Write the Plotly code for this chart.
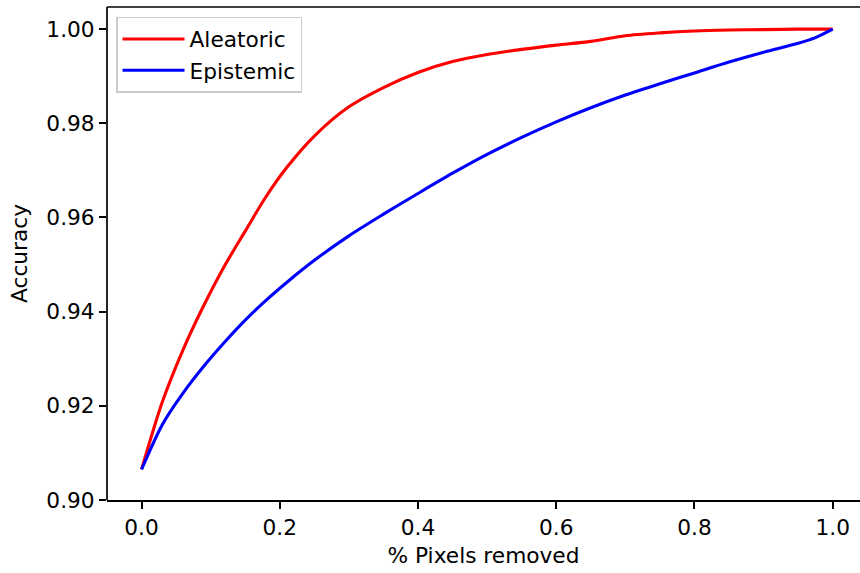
import plotly.graph_objects as go

x_aleatoric = [0.0, 0.03, 0.06, 0.09, 0.12, 0.15, 0.18, 0.21, 0.25, 0.30, 0.35, 0.40,
               0.45, 0.50, 0.55, 0.60, 0.65, 0.70, 0.75, 0.80, 0.85, 0.90, 0.95, 1.0]
y_aleatoric = [0.9065, 0.9208, 0.9319, 0.9413, 0.9497, 0.9571, 0.9644, 0.9706, 0.9773, 0.9835, 0.9876, 0.9908,
               0.9931, 0.9946, 0.9957, 0.9966, 0.9974, 0.9986, 0.9992, 0.9996, 0.9998, 0.9999, 1.0, 1.0]

x_epistemic = [0.0, 0.03, 0.06, 0.09, 0.12, 0.15, 0.18, 0.21, 0.25, 0.30, 0.35, 0.40,
               0.45, 0.50, 0.55, 0.60, 0.65, 0.70, 0.75, 0.80, 0.85, 0.90, 0.95, 0.975, 1.0]
y_epistemic = [0.9065, 0.9160, 0.9227, 0.9284, 0.9335, 0.9382, 0.9424, 0.9462, 0.9509, 0.9561, 0.9607, 0.9651,
               0.9694, 0.9734, 0.9770, 0.9803, 0.9833, 0.9860, 0.9884, 0.9907, 0.9930, 0.9951, 0.9970, 0.9982, 1.0]

x_ticks = [0.0, 0.2, 0.4, 0.6, 0.8, 1.0]
y_ticks = [0.90, 0.92, 0.94, 0.96, 0.98, 1.00]

FONT = "DejaVu Sans"
FS = 21.7

fig = go.Figure()
fig.add_trace(go.Scatter(x=x_aleatoric, y=y_aleatoric, mode="lines", name="Aleatoric",
                         line=dict(color="#ff0000", width=3.1, shape="spline", smoothing=0.8)))
fig.add_trace(go.Scatter(x=x_epistemic, y=y_epistemic, mode="lines", name="Epistemic",
                         line=dict(color="#0000ff", width=3.1, shape="spline", smoothing=0.8)))

# top and left spines
fig.add_shape(type="line", xref="paper", yref="paper", x0=0, x1=1, y0=1, y1=1,
              line=dict(color="black", width=1.7), layer="above")
fig.add_shape(type="line", xref="paper", yref="paper", x0=0, x1=0, y0=0, y1=1,
              line=dict(color="black", width=1.7), layer="above")

fig.update_layout(
    width=860, height=573,
    margin=dict(l=107, r=0, t=7, b=73),
    paper_bgcolor="white", plot_bgcolor="white",
    font=dict(family=FONT, size=FS, color="black"),
    showlegend=True,
    legend=dict(x=0.012, y=0.98, xanchor="left", yanchor="top",
                bgcolor="rgba(255,255,255,0.8)", bordercolor="#cccccc", borderwidth=1.5,
                font=dict(family=FONT, size=FS), tracegroupgap=0, itemwidth=62),
)
fig.update_xaxes(
    range=[-0.05, 1.0395], tickvals=x_ticks, tickformat=".1f",
    showline=True, linecolor="black", linewidth=1.7, mirror=False,
    ticks="outside", ticklen=7, tickwidth=1.7, tickcolor="black",
    showgrid=False, zeroline=False,
    title=dict(text="% Pixels removed", standoff=9, font=dict(family=FONT, size=FS)),
)
fig.update_yaxes(
    range=[0.90, 1.0047], tickvals=y_ticks, tickformat=".2f",
    showline=False, mirror=False,
    ticks="outside", ticklen=7, tickwidth=1.7, tickcolor="black",
    showgrid=False, zeroline=False,
    title=dict(text="Accuracy", standoff=12, font=dict(family=FONT, size=FS)),
)

fig.write_html("out.html", config={"displayModeBar": False},
               post_script="document.body.style.margin='0';document.body.style.overflow='hidden';")
